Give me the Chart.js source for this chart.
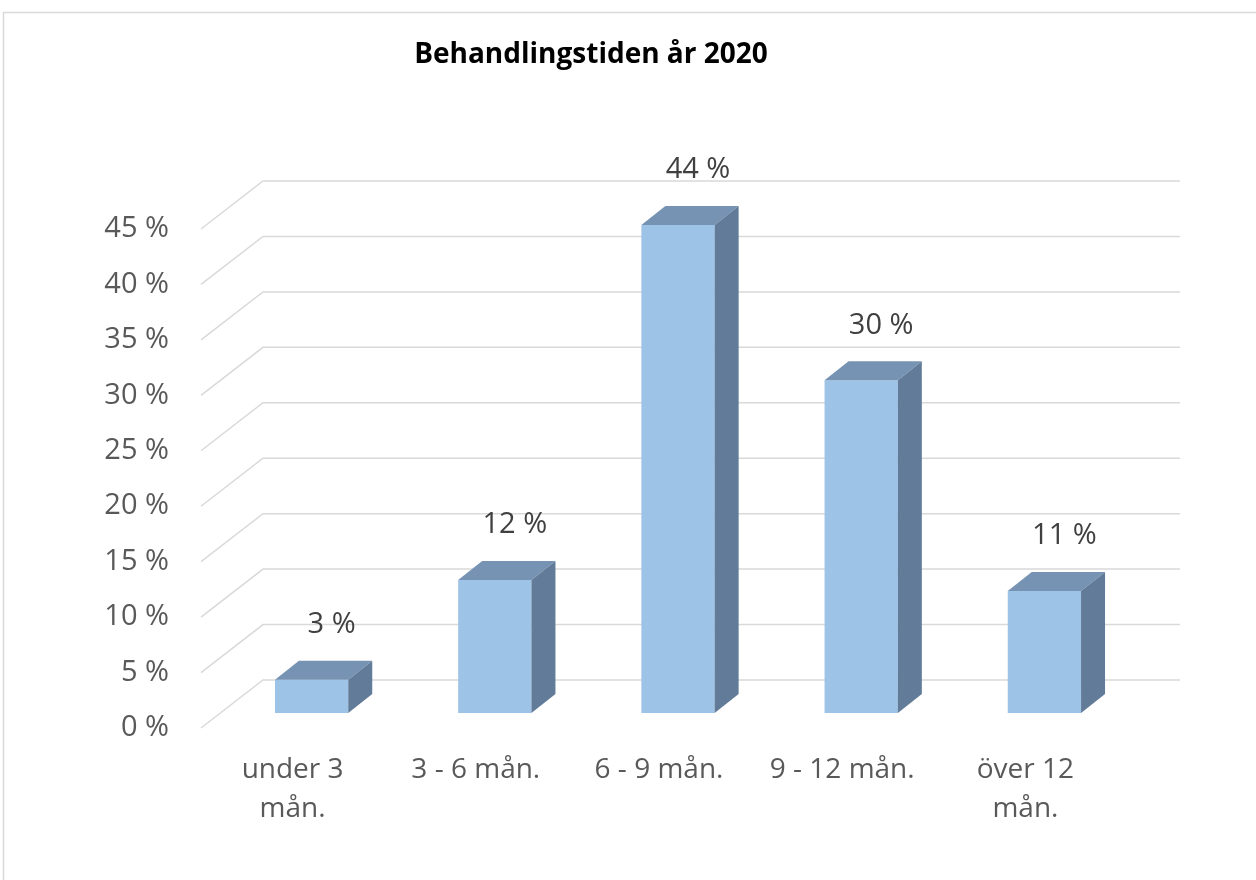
<!DOCTYPE html>
<html>
<head>
<meta charset="utf-8">
<script src="https://cdn.jsdelivr.net/npm/chart.js@4"></script>
<style>
  body { margin: 0; background: #fff; }
  #wrap { width: 1256px; height: 880px; }
</style>
</head>
<body>
<div id="wrap"><canvas id="chartJS" width="1256" height="880"></canvas></div>
<script>
const kategorier = [["under 3", "mån."], "3 - 6 mån.", "6 - 9 mån.", "9 - 12 mån.", ["över 12", "mån."]];
const andelar = [3, 12, 44, 30, 11];
const titel = "Behandlingstiden år 2020";

// 3D-effekt (djup mot bakväggen och stapelns egen tjocklek)
const framX = -19, framY = 15;
const bakX = 43, bakY = -33;
const djupX = 24, djupY = 19;

const ramOchRutnat = {
    id: "ramOchRutnat",
    beforeDraw(chart) {
        const ctx = chart.ctx;
        ctx.save();
        ctx.strokeStyle = "#d9d9d9";
        ctx.lineWidth = 1.5;
        ctx.strokeRect(3.5, 12.5, 1400, 1000);
        ctx.fillStyle = "#000";
        ctx.font = "bold 28px 'Open Sans'";
        ctx.textAlign = "center";
        ctx.textBaseline = "middle";
        ctx.fillText(titel, 591, 55);
        ctx.restore();
    },
    beforeDatasetsDraw(chart) {
        const ctx = chart.ctx;
        const y = chart.scales.y;
        const area = chart.chartArea;
        ctx.save();
        ctx.strokeStyle = "#d9d9d9";
        ctx.lineWidth = 1.5;
        y.ticks.forEach(t => {
            const p = y.getPixelForValue(t.value);
            ctx.beginPath();
            ctx.moveTo(area.left + framX, p + framY);
            ctx.lineTo(area.left + bakX, p + bakY);
            ctx.lineTo(area.right + 44, p + bakY);
            ctx.stroke();
        });
        ctx.restore();
    },
    afterDatasetsDraw(chart) {
        const ctx = chart.ctx;
        const meta = chart.getDatasetMeta(0);
        ctx.save();
        meta.data.forEach((bar, i) => {
            const v = bar.getProps(["x", "y", "base", "width"], true);
            const l = v.x - v.width / 2, r = v.x + v.width / 2;
            // topp
            ctx.fillStyle = "#7693b4";
            ctx.beginPath();
            ctx.moveTo(l, v.y);
            ctx.lineTo(l + djupX, v.y - djupY);
            ctx.lineTo(r + djupX, v.y - djupY);
            ctx.lineTo(r, v.y);
            ctx.closePath();
            ctx.fill();
            // sida
            ctx.fillStyle = "#627b99";
            ctx.beginPath();
            ctx.moveTo(r, v.y);
            ctx.lineTo(r + djupX, v.y - djupY);
            ctx.lineTo(r + djupX, v.base - djupY);
            ctx.lineTo(r, v.base);
            ctx.closePath();
            ctx.fill();
            // etikett
            ctx.fillStyle = "#404040";
            ctx.font = "29px 'Open Sans'";
            ctx.textAlign = "center";
            ctx.textBaseline = "middle";
            ctx.fillText(andelar[i] + " %", v.x + 20, v.y - 55);
        });
        ctx.restore();
    }
};

const data = {
    labels: kategorier,
    datasets: [{
        label: "Andel",
        data: andelar,
        backgroundColor: "#9dc3e6",
        borderWidth: 0,
        categoryPercentage: 0.8,
        barPercentage: 0.5,
    }],
};

const config = {
    type: "bar",
    data: data,
    options: {
        responsive: false,
        animation: false,
        layout: { padding: { top: 214, left: 0, right: 120, bottom: 0 } },
        plugins: {
            legend: { display: false },
            tooltip: { enabled: false },
        },
        scales: {
            x: {
                grid: { display: false, drawTicks: false },
                border: { display: false },
                ticks: {
                    color: "#595959",
                    font: { family: "'Open Sans'", size: 28, lineHeight: 1.4 },
                    padding: 37,
                    labelOffset: framX,
                    maxRotation: 0,
                    autoSkip: false,
                },
                afterFit(scale) { scale.height = 167; },
            },
            y: {
                min: 0,
                max: 45,
                grid: { display: false, drawTicks: false },
                border: { display: false },
                ticks: {
                    stepSize: 5,
                    color: "#595959",
                    font: { family: "'Open Sans'", size: 29 },
                    padding: 51,
                    labelOffset: framY,
                    callback: v => v + " %",
                },
                afterFit(scale) { scale.width = 220; },
            },
        },
    },
    plugins: [ramOchRutnat],
};

const myChart = new Chart(document.getElementById("chartJS"), config);
</script>
</body>
</html>
